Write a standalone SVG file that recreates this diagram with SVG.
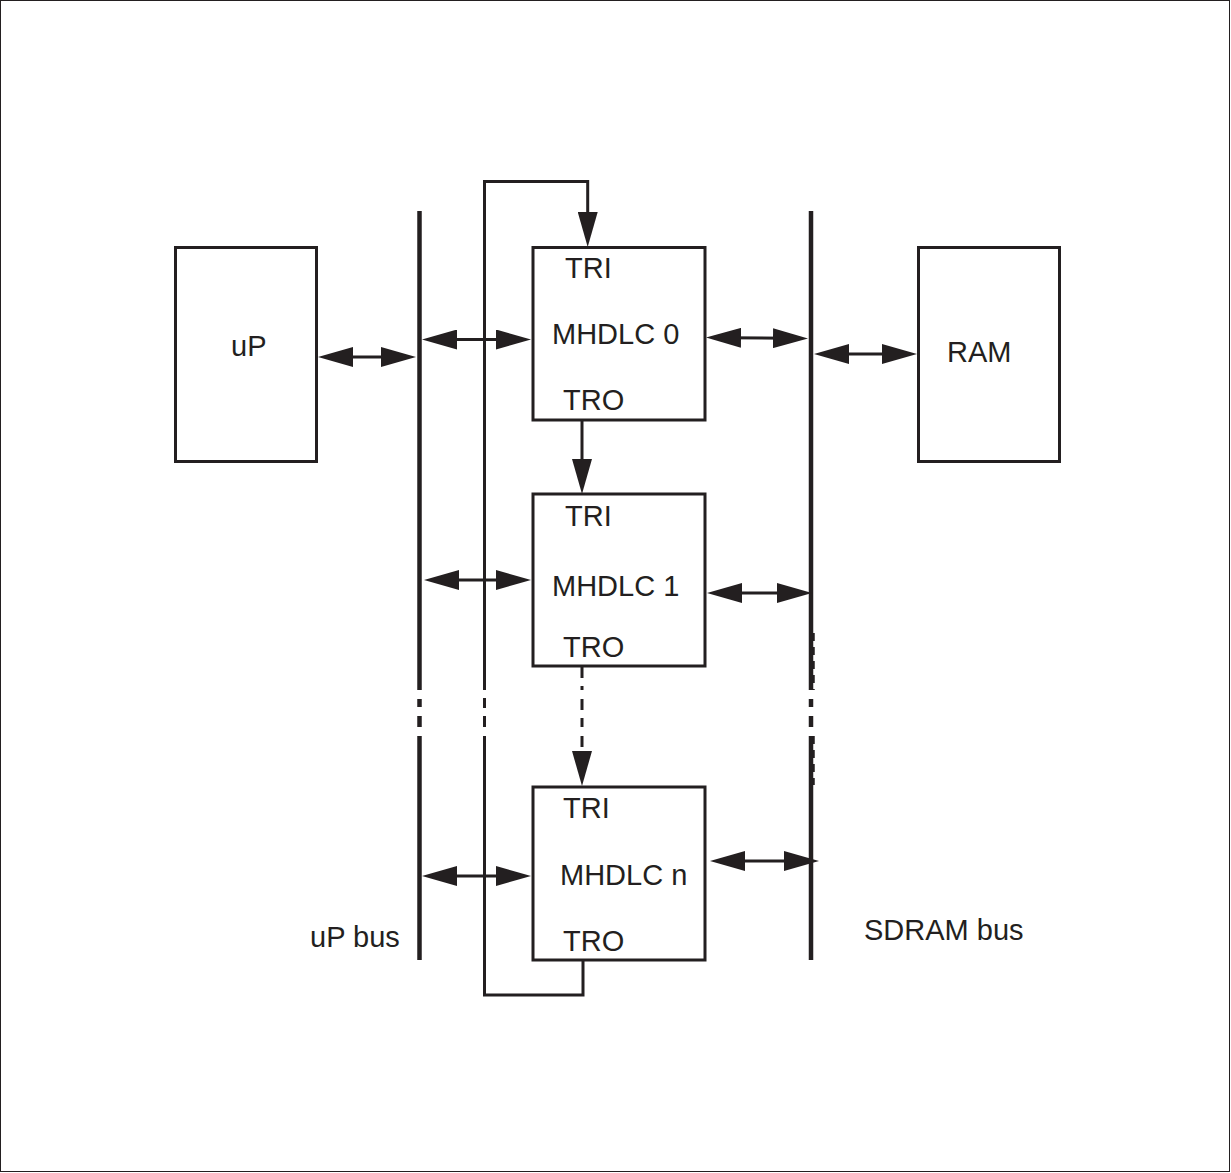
<svg xmlns="http://www.w3.org/2000/svg" width="1231" height="1173" viewBox="0 0 1231 1173">
<style>
.box{fill:#fff;stroke:#231f20;stroke-width:3}
.bus{stroke:#231f20;stroke-width:4.5;fill:none}
.ln{stroke:#231f20;stroke-width:3;fill:none}
.dash{stroke:#231f20;stroke-width:3;fill:none;stroke-dasharray:11 8}
.arr{stroke:#231f20;stroke-width:3;fill:none;marker-start:url(#ah);marker-end:url(#ah)}
.one{stroke:#231f20;stroke-width:3;fill:none;marker-end:url(#ah)}
text{font-family:"Liberation Sans",Arial,sans-serif;font-size:29px;fill:#231f20}
</style>
<defs>
<marker id="ah" viewBox="0 0 35 20" refX="15" refY="10" markerWidth="35" markerHeight="20" markerUnits="userSpaceOnUse" orient="auto-start-reverse">
<path d="M0,0 L35,10 L0,20 Z" fill="#231f20"/>
</marker>
</defs>
<rect x="0.5" y="0.5" width="1229" height="1171" fill="#fff" stroke="#231f20" stroke-width="1"/>

<g id="uP-bus">
<line class="bus" x1="419.5" y1="211" x2="419.5" y2="690"/>
<line class="bus" x1="419.5" y1="699" x2="419.5" y2="707"/>
<line class="bus" x1="419.5" y1="716" x2="419.5" y2="727"/>
<line class="bus" x1="419.5" y1="736" x2="419.5" y2="960"/>
<text x="310" y="947">uP bus</text>
</g>

<g id="SDRAM-bus">
<line class="bus" x1="811" y1="211" x2="811" y2="690"/>
<line class="bus" x1="811" y1="699" x2="811" y2="707"/>
<line class="bus" x1="811" y1="716" x2="811" y2="727"/>
<line class="bus" x1="811" y1="736" x2="811" y2="960"/>
<line stroke="#231f20" stroke-width="2.5" stroke-dasharray="8 6" x1="813.5" y1="633" x2="813.5" y2="690"/>
<line stroke="#231f20" stroke-width="2.5" stroke-dasharray="8 6" x1="813.5" y1="736" x2="813.5" y2="785"/>
<text x="864" y="940">SDRAM bus</text>
</g>

<g id="uP">
<rect class="box" x="175.5" y="247.5" width="141" height="214"/>
<text x="231" y="356">uP</text>
</g>

<g id="RAM">
<rect class="box" x="918.5" y="247.5" width="141" height="214"/>
<text x="947" y="362">RAM</text>
</g>

<g id="mhdlc0">
<rect class="box" x="533" y="247.5" width="172" height="172.5"/>
<text x="565" y="278">TRI</text>
<text x="552" y="344">MHDLC 0</text>
<text x="563" y="410">TRO</text>
</g>

<g id="mhdlc1">
<rect class="box" x="533" y="494" width="172" height="172"/>
<text x="565" y="526">TRI</text>
<text x="552" y="596">MHDLC 1</text>
<text x="563" y="657">TRO</text>
</g>

<g id="mhdlcn">
<rect class="box" x="533" y="787" width="172" height="173"/>
<text x="563" y="818">TRI</text>
<text x="560" y="885">MHDLC n</text>
<text x="563" y="951">TRO</text>
</g>

<g id="connectors">
<line class="arr" x1="338" y1="357" x2="396" y2="357"/>
<line class="arr" x1="442" y1="339.5" x2="511" y2="339.5"/>
<line class="arr" x1="726" y1="337.7" x2="788" y2="338.3"/>
<line class="arr" x1="834" y1="354" x2="897" y2="354"/>
<line class="arr" x1="444" y1="580" x2="511" y2="580"/>
<line class="arr" x1="727" y1="593" x2="792" y2="593"/>
<line class="arr" x1="442" y1="876" x2="511" y2="876"/>
<line class="arr" x1="730" y1="861" x2="799" y2="861"/>
<line class="one" x1="582" y1="420" x2="582" y2="474"/>
<line class="dash" x1="582" y1="667" x2="582" y2="690"/>
<line class="dash" x1="582" y1="699" x2="582" y2="727"/>
<line class="one" x1="582" y1="736" x2="582" y2="766" stroke-dasharray="11 8"/>
<path class="ln" d="M583,960 V995 H484.5 V736"/>
<line class="ln" x1="484.5" y1="727" x2="484.5" y2="716"/>
<line class="ln" x1="484.5" y1="708" x2="484.5" y2="698"/>
<path class="one" d="M484.5,690 V181.5 H587.7 V227"/>
</g>
</svg>
